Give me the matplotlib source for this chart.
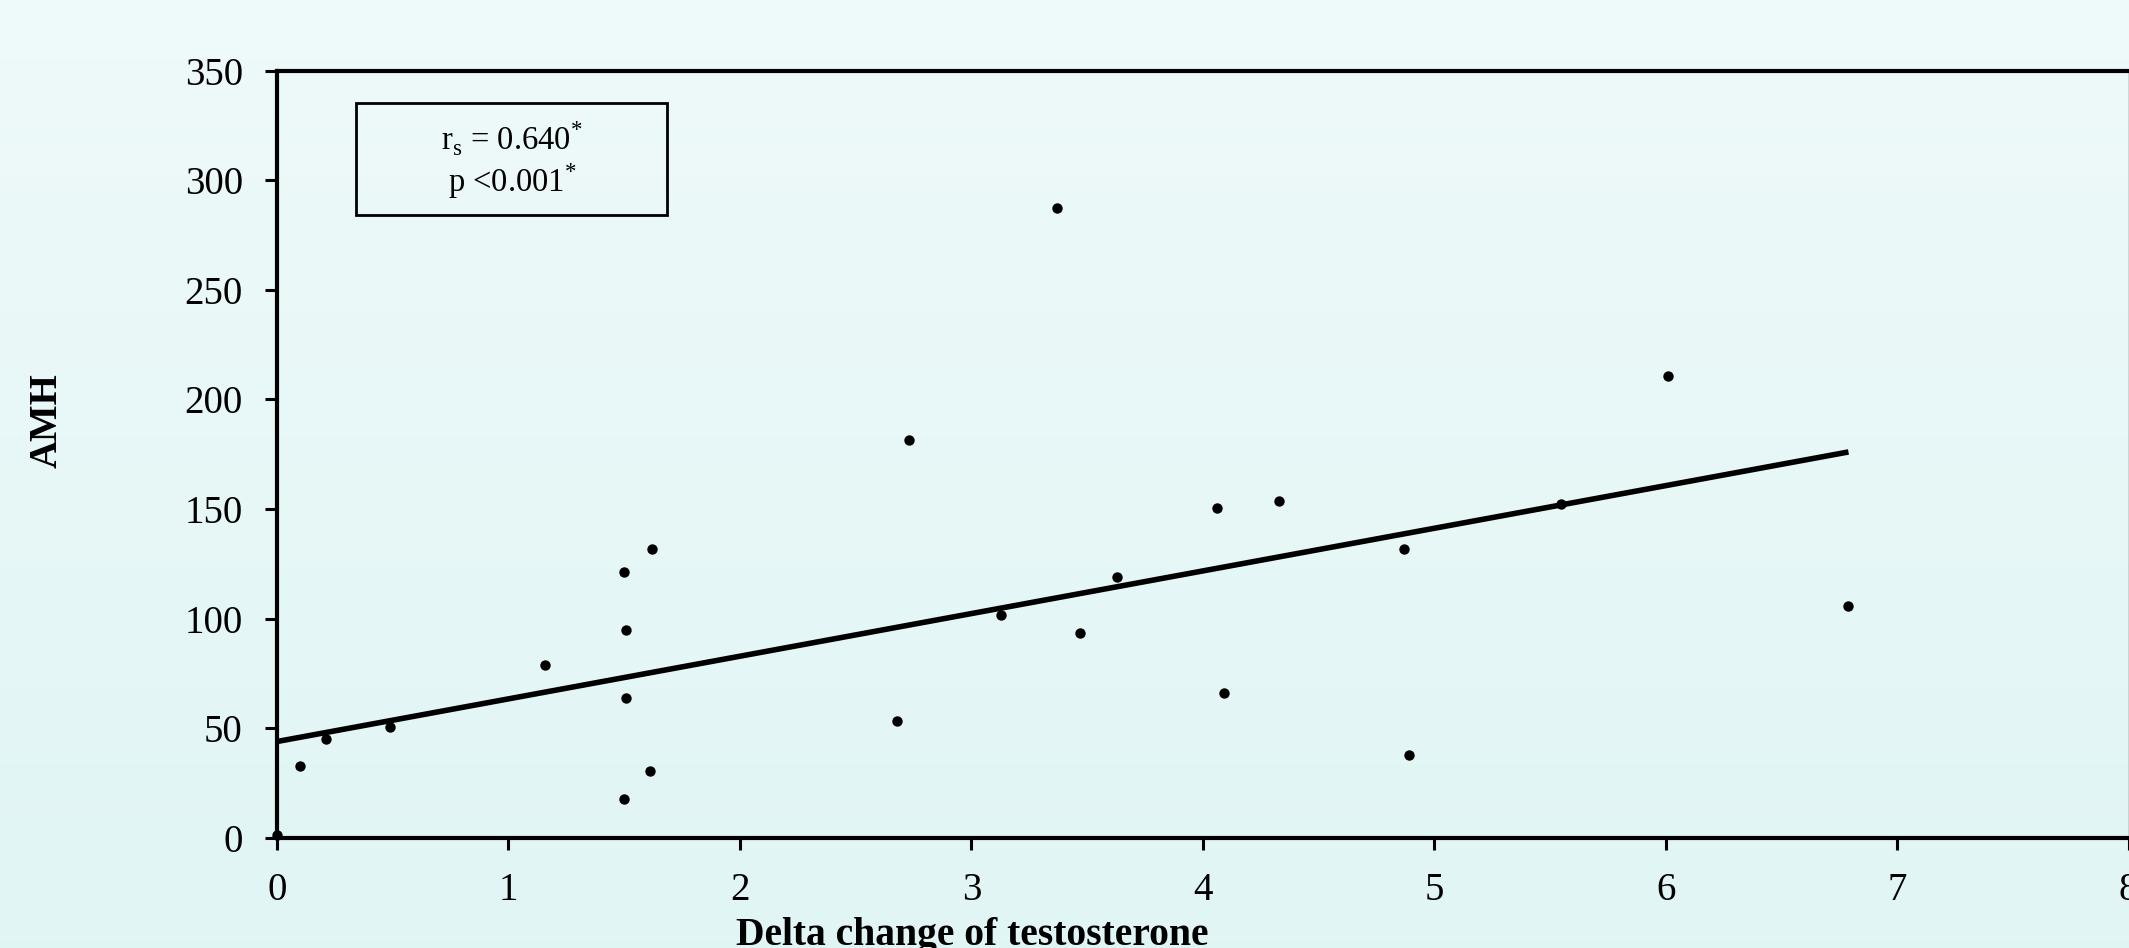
import numpy as np
import matplotlib
matplotlib.use("Agg")
import matplotlib.pyplot as plt
from matplotlib.patches import Rectangle

# ---- data ----
delta_testosterone = [0.00, 0.10, 0.21, 0.49, 1.16, 1.50, 1.51, 1.51, 1.50, 1.61,
                      1.62, 2.68, 2.73, 3.13, 3.37, 3.47, 3.63, 4.06, 4.09, 4.33,
                      4.87, 4.89, 5.55, 6.01, 6.79]
amh = [1.5, 32.8, 45.2, 50.8, 78.7, 121.4, 94.8, 63.8, 18.0, 30.4,
       132.0, 53.3, 181.5, 101.6, 287.5, 93.6, 119.0, 150.6, 66.3, 153.7,
       132.0, 37.8, 152.4, 210.7, 106.0]
fit_intercept = 44.0
fit_slope = 19.45
x_ticks = [0, 1, 2, 3, 4, 5, 6, 7, 8]
y_ticks = [0, 50, 100, 150, 200, 250, 300, 350]
x_label = "Delta change of testosterone"
y_label = "AMH"
stat_text = "r$_\\mathregular{s}$ = 0.640$^\\mathregular{*}$\np <0.001$^\\mathregular{*}$"

plt.rcParams['font.family'] = ['Liberation Serif', 'DejaVu Serif']
plt.rcParams['mathtext.fontset'] = 'custom'
plt.rcParams['mathtext.rm'] = 'Liberation Serif'

W, H = 2129, 948
fig = plt.figure(figsize=(W / 100, H / 100), dpi=100)

# background gradient
bg = fig.add_axes([0, 0, 1, 1], zorder=-10)
top = np.array([0.937, 0.980, 0.980])
bot = np.array([0.878, 0.961, 0.957])
t = np.linspace(0, 1, 256)[:, None]
grad = top[None, :] * (1 - t) + bot[None, :] * t
bg.imshow(grad[:, None, :], aspect='auto', extent=[0, 1, 0, 1])
bg.set_axis_off()

AX_L, AX_R, AX_B, AX_T = 277, 2128.5, 838, 70.6
ax = fig.add_axes([AX_L / W, 1 - AX_B / H, (AX_R - AX_L) / W, (AX_B - AX_T) / H])
ax.patch.set_alpha(0)

def ax_x(px):
    return (px - AX_L) / (AX_R - AX_L)

def ax_y(py):
    return (AX_B - py) / (AX_B - AX_T)

ax.scatter(delta_testosterone, amh, s=56, color='black', zorder=3, clip_on=False,
           linewidths=0)
xl = np.array([0, max(delta_testosterone)])
ax.plot(xl, fit_intercept + fit_slope * xl, color='black', lw=4.0, zorder=2,
        solid_capstyle='butt')

ax.set_xlim(0, 8)
ax.set_ylim(0, 350)
ax.set_xticks(x_ticks)
ax.set_yticks(y_ticks)
ax.tick_params(axis='both', direction='out', length=8.6, width=2.2, labelsize=28,
               color='black')
ax.tick_params(axis='y', pad=16)
ax.tick_params(axis='x', pad=16)
for s in ['left', 'bottom', 'top']:
    ax.spines[s].set_linewidth(3)
ax.spines['right'].set_linewidth(1)
ax.spines['right'].set_color('#555555')

ax.set_xlabel(x_label, fontsize=28.5, fontweight='bold')
ax.xaxis.set_label_coords(ax_x(972), ax_y(954))
ax.xaxis.label.set_va('bottom')
ax.set_ylabel(y_label, fontsize=28, fontweight='bold')
ax.yaxis.set_label_coords(ax_x(66), ax_y(421))

ax.text(ax_x(512), ax_y(160), stat_text, transform=ax.transAxes, ha='center',
        va='center', fontsize=23.5, linespacing=1.1)
ax.add_patch(Rectangle((ax_x(356), ax_y(215)), ax_x(667) - ax_x(356),
                       ax_y(103) - ax_y(215), transform=ax.transAxes,
                       fill=False, ec='black', lw=2))

fig.savefig("out.png", dpi=100)
